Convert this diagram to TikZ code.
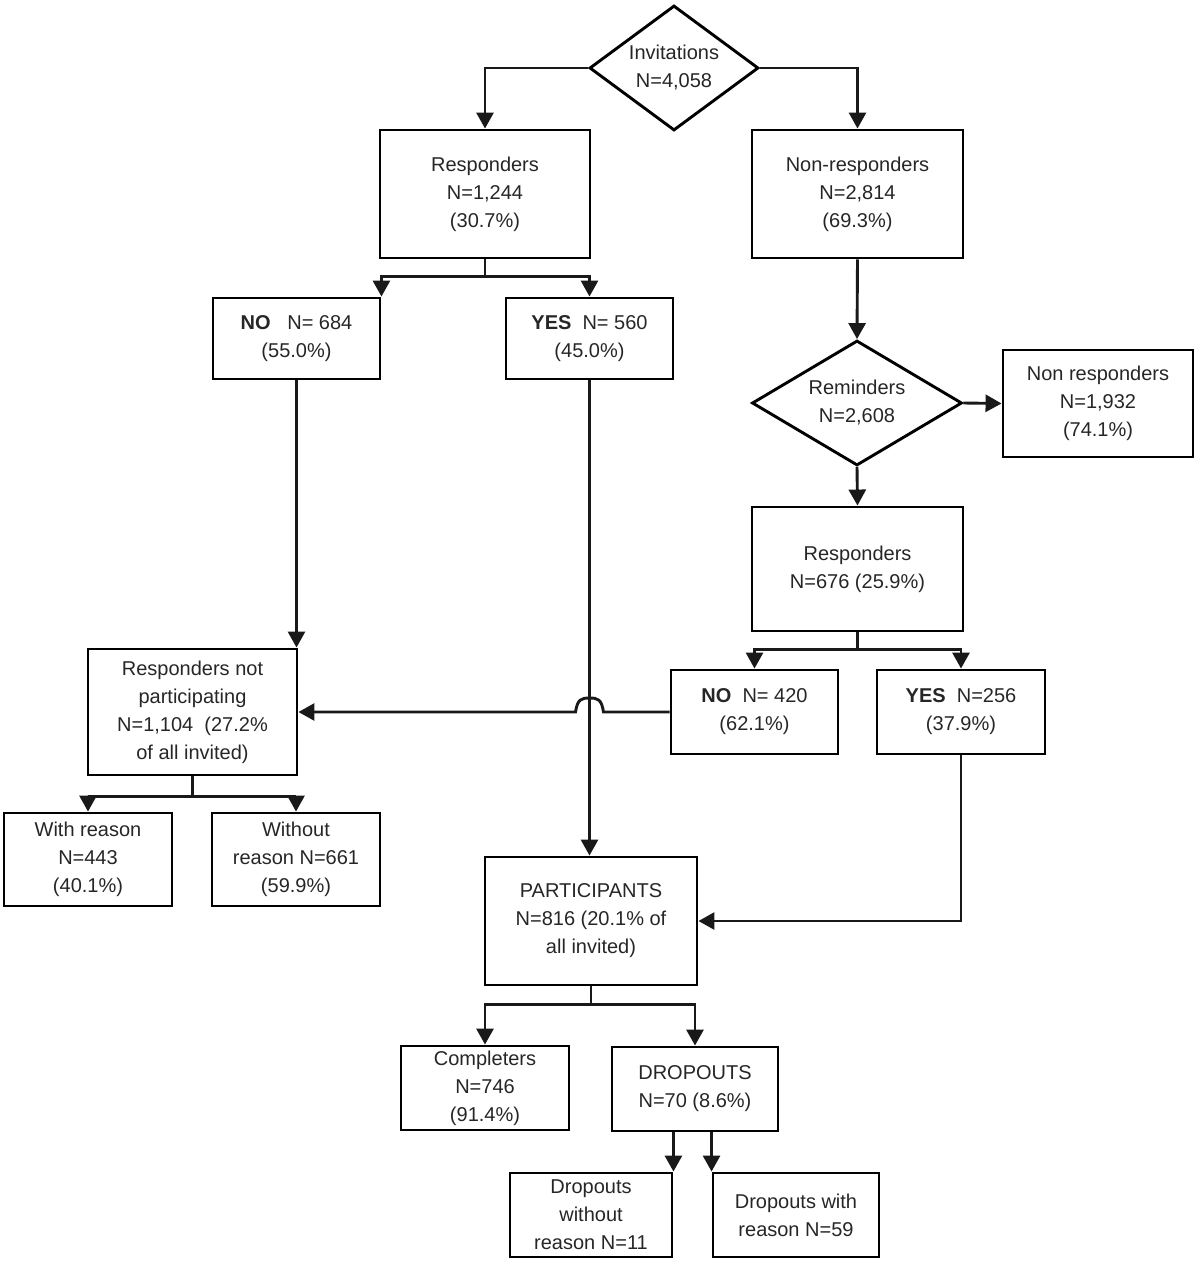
\documentclass[tikz,border=0pt]{standalone}
\usepackage{fontspec}
\setmainfont{Liberation Sans}
\usetikzlibrary{arrows.meta,shapes.geometric,calc}
\tikzset{
  box/.style={draw, line width=2.9pt, rectangle, inner sep=0pt, align=center,
    font=\fontsize{20}{28}\selectfont, text=black!85},
  dia/.style={draw, line width=2.9pt, diamond, aspect=1.4, inner sep=0pt, align=center,
    font=\fontsize{20}{28}\selectfont, text=black!85},
  ln/.style={line width=2.9pt, black!90},
  arr/.style={ln, -{Triangle[width=17pt,length=16pt]}},
}
\begin{document}
\begin{tikzpicture}[x=1pt,y=-1pt]
\useasboundingbox (0,0) rectangle (1200,1263);
% nodes
\node[dia, minimum width=169pt, minimum height=125pt] (inv) at (674,68) {Invitations\\N=4,058};
\node[box, minimum width=210pt, minimum height=128pt] (resp) at (485,194) {Responders\\N=1,244\\(30.7\%)};
\node[box, minimum width=211pt, minimum height=128pt] (nonresp) at (857.5,194) {Non-responders\\N=2,814\\(69.3\%)};
\node[box, minimum width=167pt, minimum height=81pt] (no1) at (296.5,338.5) {\textbf{NO}\ \ \ N= 684\\(55.0\%)};
\node[box, minimum width=167pt, minimum height=81pt] (yes1) at (589.5,338.5) {\textbf{YES}\ \ N= 560\\(45.0\%)};
\node[dia, minimum width=210pt, minimum height=125pt] (rem) at (857,403) {Reminders\\N=2,608};
\node[box, minimum width=190pt, minimum height=107pt] (nr) at (1098,403.5) {Non responders\\N=1,932\\(74.1\%)};
\node[box, minimum width=211pt, minimum height=124pt] (resp2) at (857.5,569) {Responders\\N=676 (25.9\%)};
\node[box, minimum width=167pt, minimum height=84pt] (no2) at (754.5,712) {\textbf{NO}\ \ N= 420\\(62.1\%)};
\node[box, minimum width=168pt, minimum height=84pt] (yes2) at (961,712) {\textbf{YES}\ \ N=256\\(37.9\%)};
\node[box, minimum width=209pt, minimum height=126pt] (rnp) at (192.5,712) {Responders not\\participating\\N=1,104\ \ (27.2\%\\of all invited)};
\node[box, minimum width=168pt, minimum height=93pt] (wr) at (88,859.5) {With reason\\N=443\\(40.1\%)};
\node[box, minimum width=168pt, minimum height=93pt] (wo) at (296,859.5) {Without\\reason N=661\\(59.9\%)};
\node[box, minimum width=212pt, minimum height=128pt] (part) at (591,921) {PARTICIPANTS\\N=816 (20.1\% of\\all invited)};
\node[box, minimum width=168pt, minimum height=84pt] (comp) at (485,1088) {Completers\\N=746\\(91.4\%)};
\node[box, minimum width=166pt, minimum height=84pt] (drop) at (695,1089) {DROPOUTS\\N=70 (8.6\%)};
\node[box, minimum width=162pt, minimum height=84pt] (dwo) at (591,1215) {Dropouts\\without\\reason N=11};
\node[box, minimum width=166pt, minimum height=84pt] (dw) at (796,1215) {Dropouts with\\reason N=59};
% branch points
\coordinate (b1) at ($(resp.south)+(0,17)$);
\coordinate (b2) at ($(resp2.south)+(0,17)$);
\coordinate (b3) at ($(rnp.south)+(0,20)$);
\coordinate (b4) at ($(part.south)+(0,18)$);
\coordinate (cross) at (yes1.south |- no2.west);
% connectors
\draw[arr] (inv.west) -| (resp.north);
\draw[arr] (inv.east) -| (nonresp.north);
\draw[ln] (resp.south) -- (b1);
\draw[arr] (b1) -| (no1.north east);
\draw[arr] (b1) -| (yes1.north);
\draw[arr] (no1.south) -- (no1.south |- rnp.north);
\draw[arr] (yes1.south) -- (yes1.south |- part.north);
\draw[arr] (nonresp.south) -- (rem.north);
\draw[arr] (rem.east) -- (nr.west);
\draw[arr] (rem.south) -- (resp2.north);
\draw[ln] (resp2.south) -- (b2);
\draw[arr] (b2) -| (no2.north);
\draw[arr] (b2) -| (yes2.north);
\draw[arr] (no2.west) -- ([xshift=14pt]cross)
  .. controls ([xshift=12pt,yshift=13pt]cross) and ([xshift=8pt,yshift=14pt]cross) .. ([yshift=14pt]cross)
  .. controls ([xshift=-8pt,yshift=14pt]cross) and ([xshift=-12pt,yshift=13pt]cross) .. ([xshift=-14pt]cross)
  -- (rnp.east);
\draw[arr] (yes2.south) |- (part.east);
\draw[ln] (rnp.south) -- (b3);
\draw[arr] (b3) -| (wr.north);
\draw[arr] (b3) -| (wo.north);
\draw[ln] (part.south) -- (b4);
\draw[arr] (b4) -| (comp.north);
\draw[arr] (b4) -| (drop.north);
\draw[arr] (dwo.north east |- drop.south) -- (dwo.north east);
\draw[arr] (dw.north west |- drop.south) -- (dw.north west);
\end{tikzpicture}
\end{document}
